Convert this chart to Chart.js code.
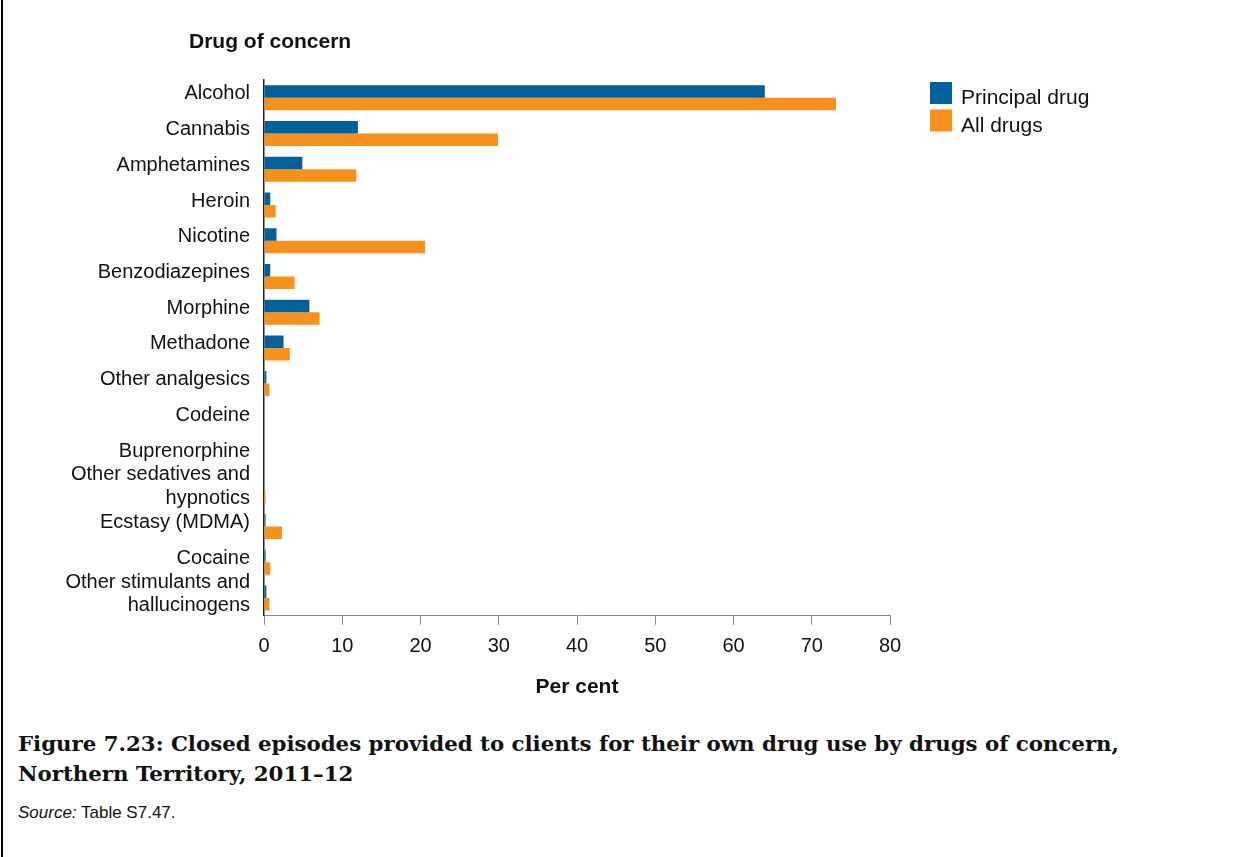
<!DOCTYPE html>
<html>
<head>
<meta charset="utf-8">
<script src="https://cdn.jsdelivr.net/npm/chart.js@4/dist/chart.umd.min.js"></script>
<style>
  html, body { margin: 0; padding: 0; background: #fff; }
  #wrap { position: relative; width: 1242px; height: 857px; overflow: hidden; }
  #frame { position: absolute; left: 1px; top: 0; width: 0; height: 857px; border-left: 2px solid #000; }
  #chart-box { position: absolute; left: 0; top: 0; width: 1242px; height: 720px; }
  .caption { position: absolute; left: 18px; top: 729px; font-family: "DejaVu Serif", serif; font-weight: bold; font-size: 21.3px; line-height: 30px; color: #111; }
  .source { position: absolute; left: 18px; top: 803px; font-family: "Liberation Sans", Arial, sans-serif; font-size: 17px; color: #111; }
</style>
</head>
<body>
<div id="wrap">
  <div id="chart-box"><canvas id="chart" width="1242" height="720"></canvas></div>
  <div class="caption">Figure 7.23: Closed episodes provided to clients for their own drug use by drugs of concern,<br>Northern Territory, 2011–12</div>
  <div class="source"><i>Source:</i> Table S7.47.</div>
  <div id="frame"></div>
</div>
<script>
// drugs of concern, top to bottom
var categories = ['Alcohol', 'Cannabis', 'Amphetamines', 'Heroin', 'Nicotine', 'Benzodiazepines',
    'Morphine', 'Methadone', 'Other analgesics', 'Codeine', 'Buprenorphine',
    ['Other sedatives and', 'hypnotics'], 'Ecstasy (MDMA)', 'Cocaine', ['Other stimulants and', 'hallucinogens']];
var principalDrug = [64.0, 12.0, 4.9, 0.8, 1.6, 0.8, 5.8, 2.5, 0.3, 0, 0, 0, 0.2, 0.2, 0.3];
var allDrugs = [73.1, 29.9, 11.8, 1.5, 20.6, 3.9, 7.1, 3.3, 0.7, 0, 0, 0.2, 2.3, 0.8, 0.7];
var xTicks = [0, 10, 20, 30, 40, 50, 60, 70, 80];

var BLUE = '#02609b';
var ORANGE = '#f7911e';
var TEXT = '#111';

// "Drug of concern" heading and the legend on the right
var extras = {
    id: 'extras',
    afterDraw: function(chart) {
        var c = chart.ctx;
        c.save();
        c.fillStyle = TEXT;
        c.font = 'bold 21px "Liberation Sans", Arial, sans-serif';
        c.textBaseline = 'alphabetic';
        c.fillText('Drug of concern', 189, 48);
        c.font = '21px "Liberation Sans", Arial, sans-serif';
        chart.data.datasets.forEach(function(ds, i) {
            var y = 82 + i * 27.5;
            c.fillStyle = ds.backgroundColor;
            c.fillRect(930, y, 22, 22);
            c.fillStyle = TEXT;
            c.fillText(ds.label, 961, y + 22);
        });
        c.restore();
    }
};

var ctx = document.getElementById('chart');
new Chart(ctx, {
    type: 'bar',
    data: {
        labels: categories,
        datasets: [
            { label: 'Principal drug', data: principalDrug, backgroundColor: BLUE },
            { label: 'All drugs', data: allDrugs, backgroundColor: ORANGE }
        ]
    },
    options: {
        indexAxis: 'y',
        responsive: false,
        animation: false,
        barPercentage: 1,
        categoryPercentage: 0.7,
        layout: { padding: { top: 80, right: 352, bottom: 20, left: 0 } },
        plugins: {
            legend: { display: false },
            tooltip: { enabled: false }
        },
        scales: {
            x: {
                min: 0,
                max: 80,
                afterBuildTicks: function(axis) {
                    axis.ticks = xTicks.map(function(v) { return { value: v }; });
                },
                grid: { drawOnChartArea: false, drawTicks: true, tickLength: 9, color: '#8a8a8a' },
                border: { display: true, color: '#8a8a8a', width: 1 },
                ticks: {
                    padding: 10,
                    color: TEXT,
                    maxRotation: 0,
                    font: { family: '"Liberation Sans", Arial, sans-serif', size: 20 }
                },
                title: {
                    display: true,
                    text: 'Per cent',
                    color: TEXT,
                    padding: { top: 6, bottom: 0 },
                    font: { family: '"Liberation Sans", Arial, sans-serif', size: 21, weight: 'bold' }
                }
            },
            y: {
                afterFit: function(axis) { axis.width = 264; },
                grid: { display: false },
                border: { display: true, color: '#222', width: 1.5 },
                ticks: {
                    padding: 6,
                    labelOffset: -4,
                    color: TEXT,
                    autoSkip: false,
                    font: { family: '"Liberation Sans", Arial, sans-serif', size: 20, lineHeight: 1.18 }
                }
            }
        }
    },
    plugins: [extras]
});
</script>
</body>
</html>
